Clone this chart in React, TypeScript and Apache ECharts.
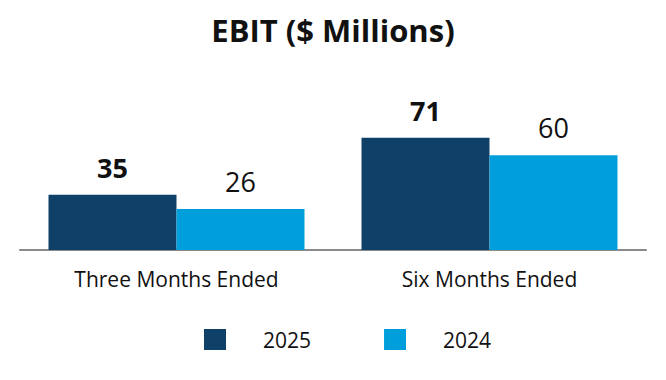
import React, { useEffect, useRef } from "react";
import * as echarts from "echarts";

const categories = ["Three Months Ended", "Six Months Ended"];
const series2025 = [35, 71];
const series2024 = [26, 60];
const seriesNames = ["2025", "2024"];
const colors = ["#0E4068", "#009FDB"];

export default function App() {
  const ref = useRef<HTMLDivElement>(null);
  useEffect(() => {
    document.body.style.margin = "0";
    if (!ref.current) return;
    const chart = echarts.init(ref.current, null, { renderer: "svg" });
    const font = "'Open Sans', 'Noto Sans', sans-serif";
    chart.setOption({
      animation: false,
      textStyle: { fontFamily: font },
      title: {
        text: "EBIT ($ Millions)",
        left: "center",
        top: 9,
        textStyle: { fontFamily: font, fontSize: 31, fontWeight: "bold", color: "#111" },
      },
      legend: {
        left: 199,
        top: 324,
        itemWidth: 22,
        itemHeight: 21,
        itemGap: 73,
        icon: "rect",
        data: seriesNames,
        textStyle: { fontFamily: font, fontSize: 21, color: "#111", padding: [0, 0, 0, 32] },
      },
      grid: { left: 20, right: 20, top: 123.6, bottom: 130, containLabel: false },
      xAxis: {
        type: "category",
        data: categories,
        axisLine: { lineStyle: { color: "#8a8a8a", width: 2 } },
        axisTick: { show: false },
        axisLabel: { fontFamily: font, fontSize: 21, color: "#111", margin: 18 },
      },
      yAxis: { type: "value", min: 0, max: 80, show: false, splitLine: { show: false } },
      series: [
        {
          name: seriesNames[0],
          type: "bar",
          data: series2025,
          barWidth: 128,
          barGap: "0%",
          itemStyle: { color: colors[0] },
          label: {
            show: true,
            position: "top",
            distance: 14,
            fontFamily: font,
            fontSize: 27,
            fontWeight: "bold",
            color: "#111",
          },
        },
        {
          name: seriesNames[1],
          type: "bar",
          data: series2024,
          barWidth: 128,
          barGap: "0%",
          itemStyle: { color: colors[1] },
          label: {
            show: true,
            position: "top",
            distance: 14,
            fontFamily: font,
            fontSize: 27,
            color: "#111",
          },
        },
      ],
    });
    return () => chart.dispose();
  }, []);
  return <div ref={ref} style={{ width: 666, height: 380 }} />;
}
